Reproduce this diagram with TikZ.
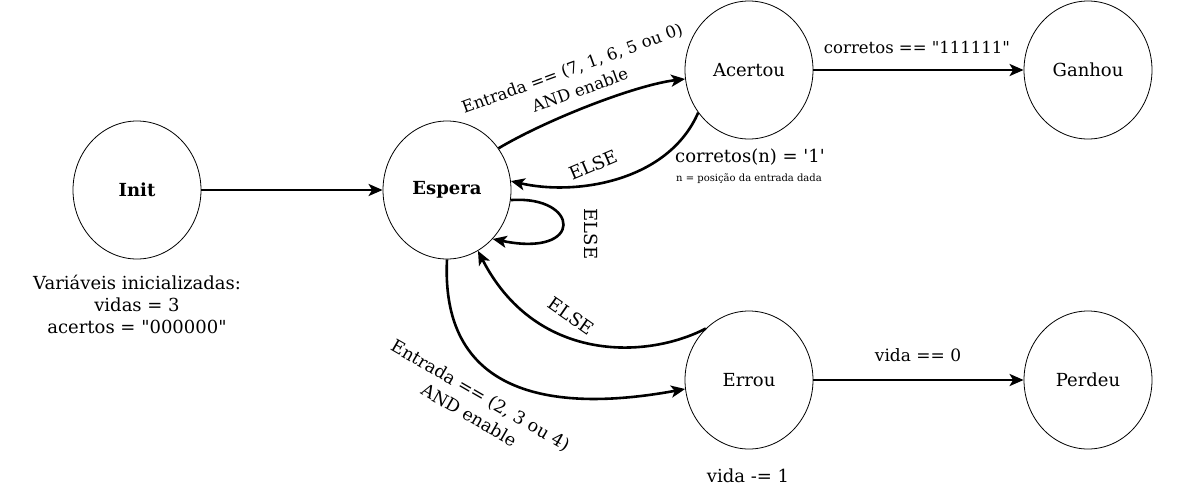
\documentclass[tikz,border=0pt]{standalone}
\usepackage{fontspec}
\setmainfont{DejaVu Serif}[Ligatures=TeXOff]
\usetikzlibrary{arrows.meta,shapes.geometric}

\begin{document}
\begin{tikzpicture}[x=1pt,y=-1pt,
  state/.style={ellipse,draw,line width=0.8pt,minimum width=128pt,minimum height=138pt,inner sep=0pt,font=\fontsize{18}{22}\selectfont},
  trans/.style={line width=2.6pt,-{Stealth[length=14pt,width=12pt,inset=3.5pt]}},
  txt/.style={font=\fontsize{18}{23}\selectfont,align=center,inner sep=0pt}]
  \useasboundingbox (0,0) rectangle (1186,491);
  \node[state,font=\fontsize{18}{22}\selectfont\bfseries] (init) at (137,190) {Init};
  \node[state,font=\fontsize{18}{22}\selectfont\bfseries] (espera) at (447,190) {Espera};
  \node[state] (acertou) at (749,70) {Acertou};
  \node[state] (ganhou) at (1088,70) {Ganhou};
  \node[state] (errou) at (749,380) {Errou};
  \node[state] (perdeu) at (1088,380) {Perdeu};
  \node[txt,font=\fontsize{18}{22}\selectfont] (varinit) at (137,304) {Variáveis inicializadas:\\vidas = 3\\acertos = "000000"};
  \node[txt] (corrn) at (750,157) {corretos(n) = '1'};
  \node[txt,font=\fontsize{10}{12}\selectfont] (nota) at (749,179) {n = posição da entrada dada};
  \node[txt] (vidamenos) at (748,476) {vida -= 1};
  \draw[trans] (init) -- (espera);
  \draw[trans] (espera.39) .. controls (546,120) and (635,85) .. (acertou.188);
  \node[txt,font=\fontsize{16.5}{23}\selectfont,rotate=20] (lbacert) at (576,79) {Entrada == (7, 1, 6, 5 ou 0)\\AND enable};
  \draw[trans] (acertou.220) .. controls (668,182) and (575,196) .. (espera.8);
  \node[txt,rotate=23] (lbelsea) at (593,165) {ELSE};
  \draw[trans] (espera.-9) .. controls (580,195) and (585,258) .. (espera.-47);
  \node[txt,rotate=-90] (lbelseb) at (591,234) {ELSE};
  \draw[trans] (errou.130) .. controls (645,360) and (535,362) .. (espera.-63);
  \node[txt,rotate=-35] (lbelsec) at (571,316) {ELSE};
  \draw[trans] (espera.south) .. controls (440,400) and (560,412) .. (errou.188);
  \node[txt,font=\fontsize{17.5}{23}\selectfont,rotate=-30] (lberrou) at (475,405) {Entrada == (2, 3 ou 4)\\AND enable};
  \draw[trans] (acertou) -- (ganhou);
  \node[txt,font=\fontsize{16.5}{22}\selectfont] (lbganhou) at (917,47) {corretos == "111111"};
  \draw[trans] (errou) -- (perdeu);
  \node[txt,font=\fontsize{17}{22}\selectfont] (lbperdeu) at (918,355) {vida == 0};
\end{tikzpicture}
\end{document}
